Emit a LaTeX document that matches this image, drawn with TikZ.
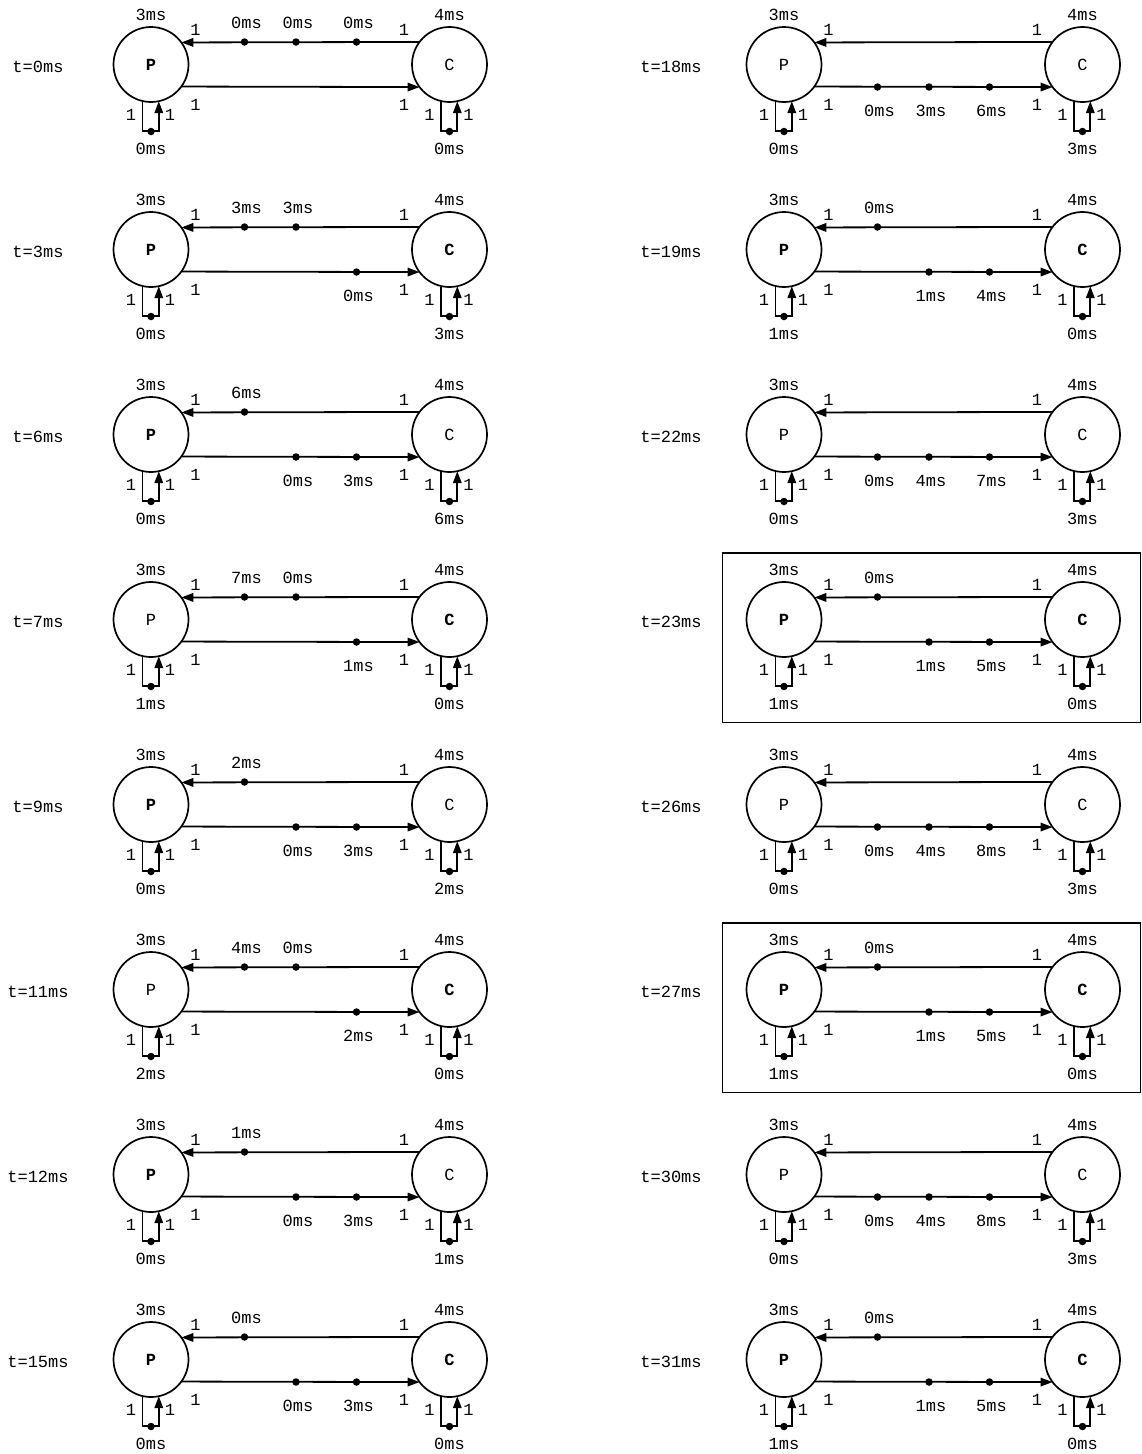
\documentclass[tikz,border=0pt]{standalone}
\usepackage{fontspec}
\setmonofont{Liberation Mono}
\usetikzlibrary{arrows.meta}

% one net: #1 name, #2 x of P, #3 y, #4 time, #5/#6 font of P/C, #7/#8 loop marks
\newcommand{\petri}[8]{%
  \node[lbl] (#1t) at (#2-113,#3+2) {t=#4ms};
  \node[place] (#1p) at (#2,#3) {#5P};
  \node[place] (#1c) at (#2+298.5,#3) {#6C};
  \node[lbl] (#1pd) at (#2,#3-49.5) {3ms};
  \node[lbl] (#1cd) at (#2+298.5,#3-49.5) {4ms};
  \draw[arc] (#1c.143.13) -- (#1p.36.87);
  \draw[arc] (#1p.-36.87) -- (#1c.-143.13);
  \draw[arc] (#1p.257.7) -- ++(0,30.3) -| (#1p.282.3);
  \draw[arc] (#1c.257.7) -- ++(0,30.3) -| (#1c.282.3);
  \node[lbl] (#1w1) at (#2+44.5,#3-34.5) {1};
  \node[lbl] (#1w2) at (#2+253,#3-34.5) {1};
  \node[lbl] (#1w3) at (#2+44.5,#3+40.5) {1};
  \node[lbl] (#1w4) at (#2+253,#3+40) {1};
  \node[lbl] (#1w5) at (#2-20,#3+50.5) {1};
  \node[lbl] (#1w6) at (#2+19,#3+50.5) {1};
  \node[lbl] (#1w7) at (#2+278.5,#3+50.5) {1};
  \node[lbl] (#1w8) at (#2+317.5,#3+50.5) {1};
  \node[token] (#1pm) at (#2,#3+67) {};
  \node[token] (#1cm) at (#2+298.5,#3+67) {};
  \node[lbl] (#1pml) at (#2,#3+84) {#7};
  \node[lbl] (#1cml) at (#2+298.5,#3+84) {#8};
}
% token on the arc C -> P
\newcommand{\upmark}[4]{%
  \node[token] (#1) at (#2,#3-22.5) {};
  \node[lbl] (#1l) at (#2+2,#3-41.5) {#4};
}
% token on the arc P -> C
\newcommand{\lowmark}[4]{%
  \node[token] (#1) at (#2,#3+22.5) {};
  \node[lbl] (#1l) at (#2+2,#3+46.5) {#4};
}

\begin{document}
\begin{tikzpicture}[x=1pt,y=-1pt,
  font=\ttfamily\fontsize{17}{19}\selectfont,
  place/.style={circle,draw,line width=1.7pt,minimum size=75pt,inner sep=0pt,outer sep=0pt},
  arc/.style={draw,line width=1.8pt,-{Triangle[length=12pt,width=8.5pt]}},
  token/.style={circle,fill,inner sep=0pt,minimum size=7.5pt},
  lbl/.style={inner sep=0pt},
  frame/.style={draw,line width=1.4pt}]

\useasboundingbox (0,0) rectangle (1141,1454);

% ===== Left column =====
\petri{a}{151}{64.5}{0}{\bfseries}{}{0ms}{0ms}
\upmark{a1}{244.5}{64.5}{0ms}
\upmark{a2}{296}{64.5}{0ms}
\upmark{a3}{356.5}{64.5}{0ms}

\petri{b}{151}{249.5}{3}{\bfseries}{\bfseries}{0ms}{3ms}
\upmark{b1}{244.5}{249.5}{3ms}
\upmark{b2}{296}{249.5}{3ms}
\lowmark{b3}{356.5}{249.5}{0ms}

\petri{c}{151}{434.5}{6}{\bfseries}{}{0ms}{6ms}
\upmark{c1}{244.5}{434.5}{6ms}
\lowmark{c2}{296}{434.5}{0ms}
\lowmark{c3}{356.5}{434.5}{3ms}

\petri{d}{151}{619.5}{7}{}{\bfseries}{1ms}{0ms}
\upmark{d1}{244.5}{619.5}{7ms}
\upmark{d2}{296}{619.5}{0ms}
\lowmark{d3}{356.5}{619.5}{1ms}

\petri{e}{151}{804.5}{9}{\bfseries}{}{0ms}{2ms}
\upmark{e1}{244.5}{804.5}{2ms}
\lowmark{e2}{296}{804.5}{0ms}
\lowmark{e3}{356.5}{804.5}{3ms}

\petri{f}{151}{989.5}{11}{}{\bfseries}{2ms}{0ms}
\upmark{f1}{244.5}{989.5}{4ms}
\upmark{f2}{296}{989.5}{0ms}
\lowmark{f3}{356.5}{989.5}{2ms}

\petri{g}{151}{1174.5}{12}{\bfseries}{}{0ms}{1ms}
\upmark{g1}{244.5}{1174.5}{1ms}
\lowmark{g2}{296}{1174.5}{0ms}
\lowmark{g3}{356.5}{1174.5}{3ms}

\petri{h}{151}{1359.5}{15}{\bfseries}{\bfseries}{0ms}{0ms}
\upmark{h1}{244.5}{1359.5}{0ms}
\lowmark{h2}{296}{1359.5}{0ms}
\lowmark{h3}{356.5}{1359.5}{3ms}

% ===== Right column =====
\petri{i}{784}{64.5}{18}{}{}{0ms}{3ms}
\lowmark{i1}{877.5}{64.5}{0ms}
\lowmark{i2}{929}{64.5}{3ms}
\lowmark{i3}{989.5}{64.5}{6ms}

\petri{j}{784}{249.5}{19}{\bfseries}{\bfseries}{1ms}{0ms}
\upmark{j1}{877.5}{249.5}{0ms}
\lowmark{j2}{929}{249.5}{1ms}
\lowmark{j3}{989.5}{249.5}{4ms}

\petri{k}{784}{434.5}{22}{}{}{0ms}{3ms}
\lowmark{k1}{877.5}{434.5}{0ms}
\lowmark{k2}{929}{434.5}{4ms}
\lowmark{k3}{989.5}{434.5}{7ms}

\petri{l}{784}{619.5}{23}{\bfseries}{\bfseries}{1ms}{0ms}
\upmark{l1}{877.5}{619.5}{0ms}
\lowmark{l2}{929}{619.5}{1ms}
\lowmark{l3}{989.5}{619.5}{5ms}
\draw[frame] (722.5,553) rectangle (1140.3,722.5);

\petri{m}{784}{804.5}{26}{}{}{0ms}{3ms}
\lowmark{m1}{877.5}{804.5}{0ms}
\lowmark{m2}{929}{804.5}{4ms}
\lowmark{m3}{989.5}{804.5}{8ms}

\petri{n}{784}{989.5}{27}{\bfseries}{\bfseries}{1ms}{0ms}
\upmark{n1}{877.5}{989.5}{0ms}
\lowmark{n2}{929}{989.5}{1ms}
\lowmark{n3}{989.5}{989.5}{5ms}
\draw[frame] (722.5,923) rectangle (1140.3,1092.5);

\petri{o}{784}{1174.5}{30}{}{}{0ms}{3ms}
\lowmark{o1}{877.5}{1174.5}{0ms}
\lowmark{o2}{929}{1174.5}{4ms}
\lowmark{o3}{989.5}{1174.5}{8ms}

\petri{q}{784}{1359.5}{31}{\bfseries}{\bfseries}{1ms}{0ms}
\upmark{q1}{877.5}{1359.5}{0ms}
\lowmark{q2}{929}{1359.5}{1ms}
\lowmark{q3}{989.5}{1359.5}{5ms}

\end{tikzpicture}
\end{document}
